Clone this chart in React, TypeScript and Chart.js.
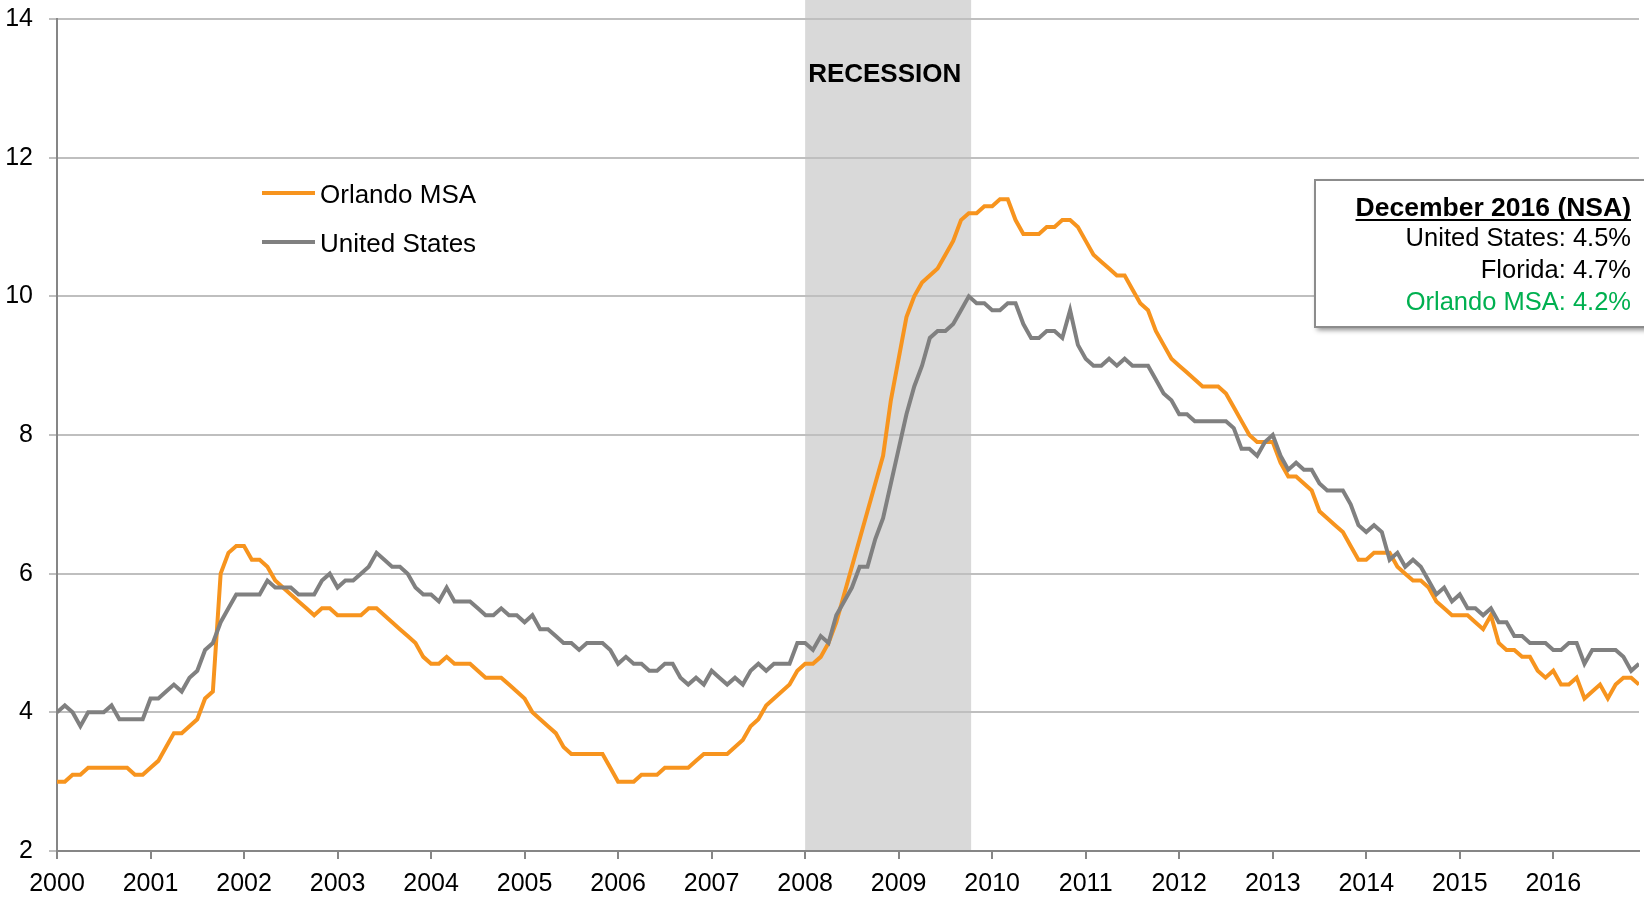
import React, { useEffect, useRef } from "react";
import { Chart, registerables } from "chart.js";

Chart.register(...registerables);

const FONT = "'Liberation Sans', Arial, Helvetica, sans-serif";

const yearLabels = [
  "2000", "2001", "2002", "2003", "2004", "2005", "2006", "2007", "2008",
  "2009", "2010", "2011", "2012", "2013", "2014", "2015", "2016",
];

// Orlando MSA unemployment rate (%), monthly, by year
const orlando2000 = [3.0, 3.0, 3.1, 3.1, 3.2, 3.2, 3.2, 3.2, 3.2, 3.2, 3.1, 3.1];
const orlando2001 = [3.2, 3.3, 3.5, 3.7, 3.7, 3.8, 3.9, 4.2, 4.3, 6.0, 6.3, 6.4];
const orlando2002 = [6.4, 6.2, 6.2, 6.1, 5.9, 5.8, 5.7, 5.6, 5.5, 5.4, 5.5, 5.5];
const orlando2003 = [5.4, 5.4, 5.4, 5.4, 5.5, 5.5, 5.4, 5.3, 5.2, 5.1, 5.0, 4.8];
const orlando2004 = [4.7, 4.7, 4.8, 4.7, 4.7, 4.7, 4.6, 4.5, 4.5, 4.5, 4.4, 4.3];
const orlando2005 = [4.2, 4.0, 3.9, 3.8, 3.7, 3.5, 3.4, 3.4, 3.4, 3.4, 3.4, 3.2];
const orlando2006 = [3.0, 3.0, 3.0, 3.1, 3.1, 3.1, 3.2, 3.2, 3.2, 3.2, 3.3, 3.4];
const orlando2007 = [3.4, 3.4, 3.4, 3.5, 3.6, 3.8, 3.9, 4.1, 4.2, 4.3, 4.4, 4.6];
const orlando2008 = [4.7, 4.7, 4.8, 5.0, 5.3, 5.7, 6.1, 6.5, 6.9, 7.3, 7.7, 8.5];
const orlando2009 = [9.1, 9.7, 10.0, 10.2, 10.3, 10.4, 10.6, 10.8, 11.1, 11.2, 11.2, 11.3];
const orlando2010 = [11.3, 11.4, 11.4, 11.1, 10.9, 10.9, 10.9, 11.0, 11.0, 11.1, 11.1, 11.0];
const orlando2011 = [10.8, 10.6, 10.5, 10.4, 10.3, 10.3, 10.1, 9.9, 9.8, 9.5, 9.3, 9.1];
const orlando2012 = [9.0, 8.9, 8.8, 8.7, 8.7, 8.7, 8.6, 8.4, 8.2, 8.0, 7.9, 7.9];
const orlando2013 = [7.9, 7.6, 7.4, 7.4, 7.3, 7.2, 6.9, 6.8, 6.7, 6.6, 6.4, 6.2];
const orlando2014 = [6.2, 6.3, 6.3, 6.3, 6.1, 6.0, 5.9, 5.9, 5.8, 5.6, 5.5, 5.4];
const orlando2015 = [5.4, 5.4, 5.3, 5.2, 5.4, 5.0, 4.9, 4.9, 4.8, 4.8, 4.6, 4.5];
const orlando2016 = [4.6, 4.4, 4.4, 4.5, 4.2, 4.3, 4.4, 4.2, 4.4, 4.5, 4.5, 4.4];

// United States unemployment rate (%), monthly, by year
const us2000 = [4.0, 4.1, 4.0, 3.8, 4.0, 4.0, 4.0, 4.1, 3.9, 3.9, 3.9, 3.9];
const us2001 = [4.2, 4.2, 4.3, 4.4, 4.3, 4.5, 4.6, 4.9, 5.0, 5.3, 5.5, 5.7];
const us2002 = [5.7, 5.7, 5.7, 5.9, 5.8, 5.8, 5.8, 5.7, 5.7, 5.7, 5.9, 6.0];
const us2003 = [5.8, 5.9, 5.9, 6.0, 6.1, 6.3, 6.2, 6.1, 6.1, 6.0, 5.8, 5.7];
const us2004 = [5.7, 5.6, 5.8, 5.6, 5.6, 5.6, 5.5, 5.4, 5.4, 5.5, 5.4, 5.4];
const us2005 = [5.3, 5.4, 5.2, 5.2, 5.1, 5.0, 5.0, 4.9, 5.0, 5.0, 5.0, 4.9];
const us2006 = [4.7, 4.8, 4.7, 4.7, 4.6, 4.6, 4.7, 4.7, 4.5, 4.4, 4.5, 4.4];
const us2007 = [4.6, 4.5, 4.4, 4.5, 4.4, 4.6, 4.7, 4.6, 4.7, 4.7, 4.7, 5.0];
const us2008 = [5.0, 4.9, 5.1, 5.0, 5.4, 5.6, 5.8, 6.1, 6.1, 6.5, 6.8, 7.3];
const us2009 = [7.8, 8.3, 8.7, 9.0, 9.4, 9.5, 9.5, 9.6, 9.8, 10.0, 9.9, 9.9];
const us2010 = [9.8, 9.8, 9.9, 9.9, 9.6, 9.4, 9.4, 9.5, 9.5, 9.4, 9.8, 9.3];
const us2011 = [9.1, 9.0, 9.0, 9.1, 9.0, 9.1, 9.0, 9.0, 9.0, 8.8, 8.6, 8.5];
const us2012 = [8.3, 8.3, 8.2, 8.2, 8.2, 8.2, 8.2, 8.1, 7.8, 7.8, 7.7, 7.9];
const us2013 = [8.0, 7.7, 7.5, 7.6, 7.5, 7.5, 7.3, 7.2, 7.2, 7.2, 7.0, 6.7];
const us2014 = [6.6, 6.7, 6.6, 6.2, 6.3, 6.1, 6.2, 6.1, 5.9, 5.7, 5.8, 5.6];
const us2015 = [5.7, 5.5, 5.5, 5.4, 5.5, 5.3, 5.3, 5.1, 5.1, 5.0, 5.0, 5.0];
const us2016 = [4.9, 4.9, 5.0, 5.0, 4.7, 4.9, 4.9, 4.9, 4.9, 4.8, 4.6, 4.7];

const orlandoMSA = [
  ...orlando2000, ...orlando2001, ...orlando2002, ...orlando2003, ...orlando2004,
  ...orlando2005, ...orlando2006, ...orlando2007, ...orlando2008, ...orlando2009,
  ...orlando2010, ...orlando2011, ...orlando2012, ...orlando2013, ...orlando2014,
  ...orlando2015, ...orlando2016,
];
const unitedStates = [
  ...us2000, ...us2001, ...us2002, ...us2003, ...us2004, ...us2005, ...us2006,
  ...us2007, ...us2008, ...us2009, ...us2010, ...us2011, ...us2012, ...us2013,
  ...us2014, ...us2015, ...us2016,
];

// Recession shading, in months since Jan 2000
const recessionStart = 96;
const recessionEnd = 117.3;

const boxTitle = "December 2016 (NSA)";
const boxLines = [
  { text: "United States: 4.5%", color: "#000000" },
  { text: "Florida: 4.7%", color: "#000000" },
  { text: "Orlando MSA: 4.2%", color: "#00B050" },
];

const ORANGE = "#F7941E";
const GRAY = "#808080";

const overlayPlugin = {
  id: "overlay",
  beforeDraw(chart: any) {
    const { ctx, chartArea, scales } = chart;
    const x0 = scales.x.getPixelForValue(recessionStart);
    const x1 = scales.x.getPixelForValue(recessionEnd);
    ctx.save();
    ctx.fillStyle = "#D9D9D9";
    ctx.fillRect(x0, 0, x1 - x0, chartArea.bottom);
    ctx.restore();
  },
  afterDraw(chart: any) {
    const { ctx, scales } = chart;
    const x0 = scales.x.getPixelForValue(recessionStart);
    ctx.save();
    // Recession label
    ctx.fillStyle = "#000";
    ctx.font = `bold 26px ${FONT}`;
    ctx.textAlign = "left";
    ctx.textBaseline = "alphabetic";
    ctx.fillText("RECESSION", x0 + 3, 82);

    // Legend
    const items = [
      { label: chart.data.datasets[0].label, color: chart.data.datasets[0].borderColor, y: 193 },
      { label: chart.data.datasets[1].label, color: chart.data.datasets[1].borderColor, y: 242 },
    ];
    ctx.font = `26px ${FONT}`;
    for (const it of items) {
      ctx.strokeStyle = it.color;
      ctx.lineWidth = 4;
      ctx.lineCap = "butt";
      ctx.beginPath();
      ctx.moveTo(262, it.y);
      ctx.lineTo(315, it.y);
      ctx.stroke();
      ctx.fillStyle = "#000";
      ctx.fillText(it.label, 320, it.y + 10);
    }

    // Info box
    const bx = 1315, by = 180, bw = 360, bh = 147;
    ctx.save();
    ctx.shadowColor = "rgba(0,0,0,0.45)";
    ctx.shadowBlur = 5;
    ctx.shadowOffsetX = 2;
    ctx.shadowOffsetY = 3;
    ctx.fillStyle = "#fff";
    ctx.fillRect(bx, by, bw, bh);
    ctx.restore();
    ctx.strokeStyle = "#8C8C8C";
    ctx.lineWidth = 2;
    ctx.strokeRect(bx, by, bw, bh);

    const rx = 1631;
    ctx.textAlign = "right";
    ctx.fillStyle = "#000";
    ctx.font = `bold 26.5px ${FONT}`;
    ctx.fillText(boxTitle, rx, 216);
    const tw = ctx.measureText(boxTitle).width;
    ctx.strokeStyle = "#000";
    ctx.lineWidth = 2;
    ctx.beginPath();
    ctx.moveTo(rx - tw, 220);
    ctx.lineTo(rx, 220);
    ctx.stroke();
    ctx.font = `25.5px ${FONT}`;
    boxLines.forEach((l, k) => {
      ctx.fillStyle = l.color;
      ctx.fillText(l.text, rx, 246 + k * 32);
    });
    ctx.restore();
  },
};

export default function App() {
  const ref = useRef<HTMLCanvasElement>(null);
  useEffect(() => {
    const canvas = ref.current;
    if (!canvas) return;
    const chart = new Chart(canvas, {
      type: "line",
      data: {
        datasets: [
          {
            label: "Orlando MSA",
            data: orlandoMSA.map((v, i) => ({ x: i, y: v })),
            borderColor: ORANGE,
            backgroundColor: ORANGE,
            borderWidth: 4,
            pointRadius: 0,
            tension: 0,
            order: 1,
          },
          {
            label: "United States",
            data: unitedStates.map((v, i) => ({ x: i, y: v })),
            borderColor: GRAY,
            backgroundColor: GRAY,
            borderWidth: 4,
            pointRadius: 0,
            tension: 0,
            order: 0,
          },
        ],
      },
      options: {
        animation: false,
        responsive: false,
        devicePixelRatio: 1,
        layout: { padding: { top: 19, right: 5, left: 0, bottom: 0 } },
        plugins: { legend: { display: false }, tooltip: { enabled: false } },
        scales: {
          x: {
            type: "linear",
            min: 0,
            max: 203,
            afterBuildTicks: (s: any) => {
              s.ticks = yearLabels.map((_, k) => ({ value: k * 12 }));
            },
            afterFit: (s: any) => {
              s.height = 48;
              s.paddingLeft = 0;
              s.paddingRight = 0;
            },
            grid: {
              drawOnChartArea: false,
              drawTicks: true,
              tickLength: 8,
              color: "#868686",
              lineWidth: 2,
            },
            border: { display: true, color: "#868686", width: 2 },
            ticks: {
              color: "#000",
              font: { family: FONT, size: 25 },
              padding: 10,
              maxRotation: 0,
              autoSkip: false,
              callback: (v: any) => yearLabels[Math.round(Number(v) / 12)] ?? "",
            },
          },
          y: {
            min: 2,
            max: 14,
            afterFit: (s: any) => {
              s.width = 57;
              s.paddingTop = 0;
              s.paddingBottom = 0;
            },
            ticks: {
              stepSize: 2,
              color: "#000",
              font: { family: FONT, size: 25 },
              padding: 16,
            },
            grid: { color: "#BFBFBF", lineWidth: 2, tickLength: 8, drawTicks: true },
            border: { display: true, color: "#868686", width: 2 },
          },
        },
      } as any,
      plugins: [overlayPlugin],
    });
    return () => chart.destroy();
  }, []);
  return (
    <div style={{ position: "fixed", left: 0, top: 0, width: 1644, height: 899, background: "#fff" }}>
      <canvas ref={ref} width={1644} height={899} style={{ display: "block", width: 1644, height: 899 }} />
    </div>
  );
}
